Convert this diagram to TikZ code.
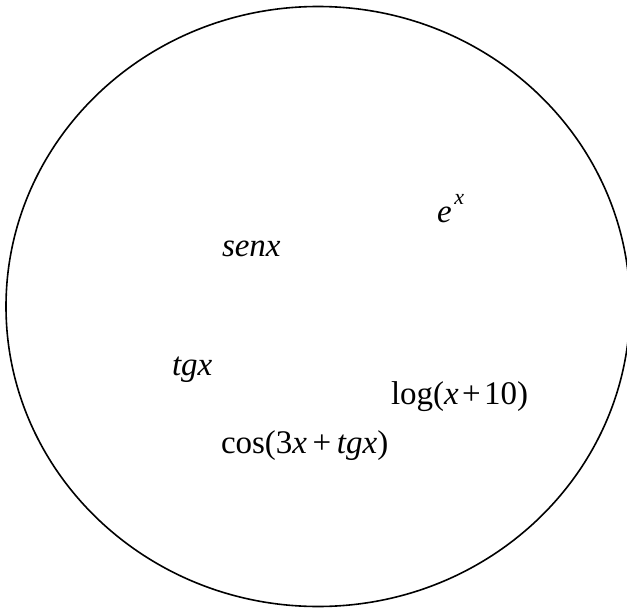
\documentclass[tikz,border=0pt]{standalone}
\usepackage{fontspec}
\setmainfont{Liberation Serif}
\tikzset{
  lbl/.style={inner sep=0pt, outer sep=0pt, anchor=base west, font=\fontsize{33}{38}\selectfont},
  ring/.style={draw=black, line width=1.6pt}
}
\newcommand{\gap}{\hspace{0.17em}}
\newcommand{\sgap}{\hspace{0.1em}}
\begin{document}
\begin{tikzpicture}[x=1pt,y=-1pt]
\useasboundingbox (0,0) rectangle (627,610);
\clip (0,0) rectangle (627,610);
\draw[ring] (318,306.5) ellipse [x radius=312, y radius=300];
\node[lbl] (ex) at (437,222) {\textit{e}\hspace{0.08em}\raisebox{0.52em}{\fontsize{22}{26}\selectfont\textit{x}}};
\node[lbl] (senx) at (222,256) {\textit{senx}};
\node[lbl] (tgx) at (172,375) {\textit{tgx}};
\node[lbl] (log) at (391,404) {log(\textit{x}\sgap+\sgap10)};
\node[lbl] (cos) at (221,453) {cos(3\textit{x}\gap+\gap\textit{tgx})};
\end{tikzpicture}
\end{document}
